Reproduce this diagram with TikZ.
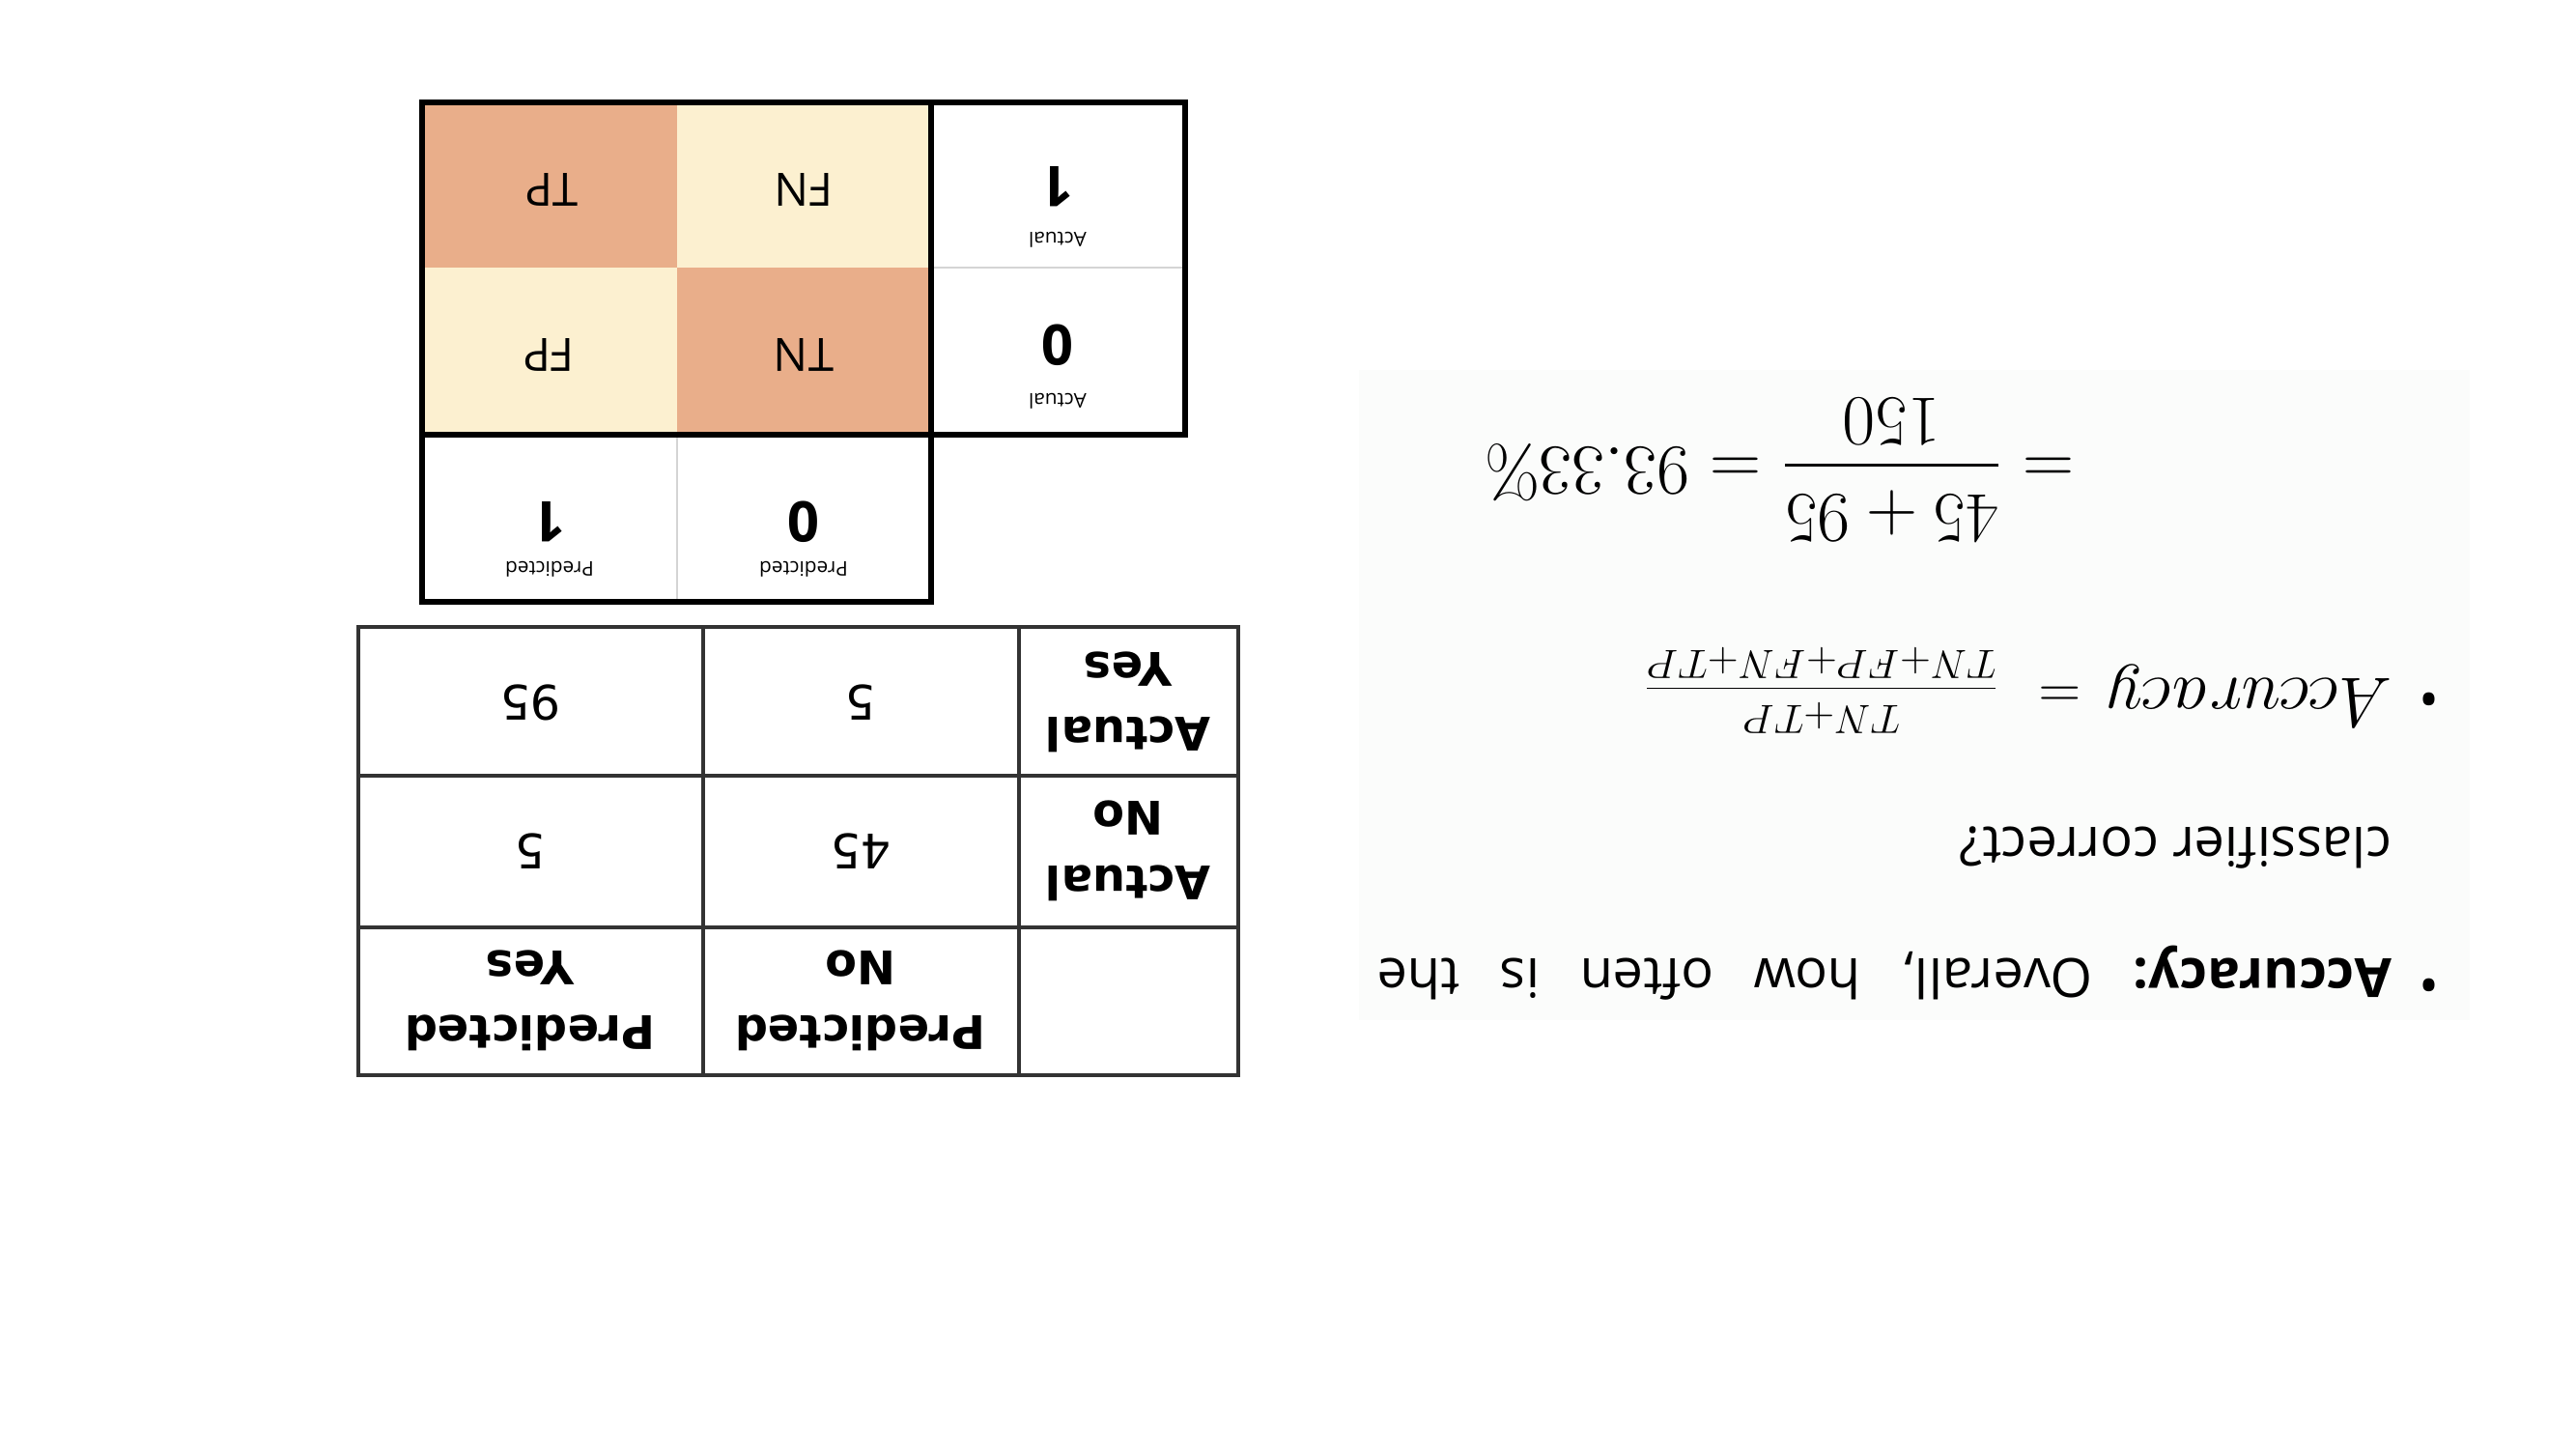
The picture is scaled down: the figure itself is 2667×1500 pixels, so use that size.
\RequirePackage{fix-cm}
\documentclass[tikz,border=0pt]{standalone}
\usepackage{amsmath}
\usepackage[no-math]{fontspec}
\setmainfont{Open Sans}
\newfontfamily\tablefont{DejaVu Sans}
\usepackage{tikz}
\usetikzlibrary{positioning}
\definecolor{cellorange}{HTML}{E9AE8A}
\definecolor{cellcream}{HTML}{FCF0D0}
\definecolor{gridgray}{HTML}{333333}
\definecolor{sepgray}{HTML}{D4D4D4}
\definecolor{panelgray}{HTML}{FBFCFB}

\begin{document}
\begin{tikzpicture}[x=0.01cm,y=-0.01cm,
    flip/.style={rotate=180,inner sep=0pt},
    cmname/.style={flip,font=\fontsize{13.5}{16}\selectfont},
    cmdigit/.style={flip,font=\fontsize{16.5}{19}\selectfont\bfseries},
    cmlabel/.style={flip,font=\fontsize{5.9}{7}\selectfont},
    tabhead/.style={flip,align=center,font=\tablefont\fontsize{13.6}{19}\selectfont\bfseries},
    tabnum/.style={flip,font=\tablefont\fontsize{14}{17}\selectfont},
    bullettext/.style={flip,font=\fontsize{15.9}{19}\selectfont\frenchspacing},
    mathtext/.style={flip,font=\fontsize{21}{25}\selectfont},
    thickborder/.style={line width=1.85pt,black},
    thinsep/.style={line width=0.6pt,sepgray},
    gridline/.style={line width=1.1pt,gridgray}]
            \path[use as bounding box,fill=white] (0,0) rectangle (2667,1500);
            % coloured matrix
            \fill[cellorange] (437,106) rectangle (701,277);
            \fill[cellcream] (701,106) rectangle (964,277);
            \fill[cellcream] (437,277) rectangle (701,450);
            \fill[cellorange] (701,277) rectangle (964,450);
            \draw[thinsep] (964,277) -- (1227,277);
            \draw[thinsep] (701,450) -- (701,623);
            \draw[thickborder] (437,106) rectangle (1227,450);
            \draw[thickborder] (437,450) rectangle (964,623);
            \draw[thickborder] (964,106) -- (964,450);
            \node[cmname] (tp) at (571,196) {TP};
            \node[cmname] (fn) at (832,196) {FN};
            \node[cmname] (fp) at (568,367) {FP};
            \node[cmname] (tn) at (832,367) {TN};
            \node[cmdigit] (act1) at (1095,193) {1};
            \node[cmlabel] (act1lab) at (1095,248) {Actual};
            \node[cmdigit] (act0) at (1095,357) {0};
            \node[cmlabel] (act0lab) at (1095,415) {Actual};
            \node[cmdigit] (pred1) at (569,540) {1};
            \node[cmlabel] (pred1lab) at (569,589) {Predicted};
            \node[cmdigit] (pred0) at (832,540) {0};
            \node[cmlabel] (pred0lab) at (832,589) {Predicted};
            % counts
            \draw[gridline] (371,649) rectangle (1282,1113);
            \draw[gridline] (728,649) -- (728,1113);
            \draw[gridline] (1055,649) -- (1055,1113);
            \draw[gridline] (371,803) -- (1282,803);
            \draw[gridline] (371,960) -- (1282,960);
            \node[tabnum] (n95) at (549,727) {95};
            \node[tabnum] (n5a) at (891,727) {5};
            \node[tabhead] (actyes) at (1168,727) {Actual\\Yes};
            \node[tabnum] (n5b) at (549,881) {5};
            \node[tabnum] (n45) at (891,881) {45};
            \node[tabhead] (actno) at (1168,881) {Actual\\No};
            \node[tabhead] (predyes) at (549,1036) {Predicted\\Yes};
            \node[tabhead] (predno) at (891,1036) {Predicted\\No};
            % accuracy
            \fill[panelgray] (1407,383) rectangle (2557,1056);
            \node[bullettext] (dot1) at (2515,1013) {\textbullet};
            \node[bullettext,anchor=base west] (line1) at (2477,992) {\makebox[10.5cm][s]{\textbf{Accuracy:} Overall, how often is the}};
            \node[bullettext,anchor=base west] (line2) at (2477,856) {classifier correct?};
            \node[bullettext] (dot2) at (2515,717) {\textbullet};
            \node[mathtext,anchor=base west] (accdef) at (2477,702) {{\fontsize{20.7}{24}\selectfont$Accuracy$}{\fontsize{17.2}{21}\selectfont$\mskip8mu=\mskip12mu$}{\fontsize{12}{15}\selectfont$\dfrac{TN{+}TP}{TN{+}FP{+}FN{+}TP}$}};
            \node[mathtext,anchor=base west] (accval) at (2148,463) {$=\dfrac{45+95}{150}=93.33\%$};
        \end{tikzpicture}
\end{document}
